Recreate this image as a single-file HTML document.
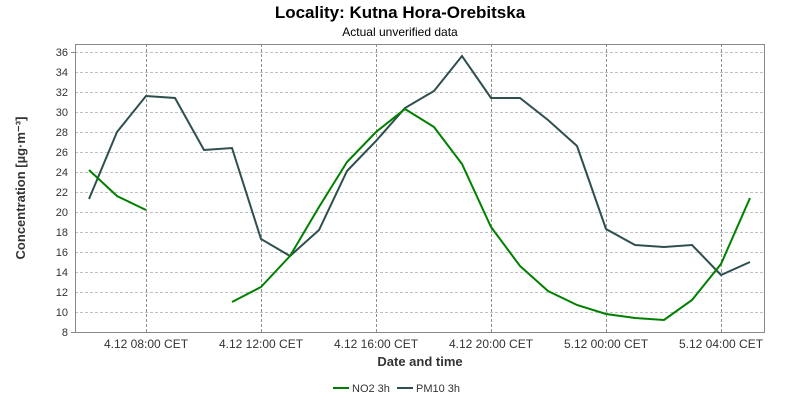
<!DOCTYPE html>
<html><head><meta charset="utf-8"><style>
body{margin:0;background:#fff;}
svg{display:block;font-family:"Liberation Sans",sans-serif;}
</style></head><body>
<svg width="800" height="400" viewBox="0 0 800 400">
<rect width="800" height="400" fill="#fff"/>
<text x="400" y="18" text-anchor="middle" font-size="17" font-weight="bold">Locality: Kutna Hora-Orebitska</text>
<text x="400" y="36" text-anchor="middle" font-size="12">Actual unverified data</text>
<g stroke="#c0c0c0" stroke-width="1" stroke-dasharray="3,2">
<line x1="75" x2="765" y1="52.5" y2="52.5"/><line x1="75" x2="765" y1="72.5" y2="72.5"/>
<line x1="75" x2="765" y1="92.5" y2="92.5"/><line x1="75" x2="765" y1="112.5" y2="112.5"/>
<line x1="75" x2="765" y1="132.5" y2="132.5"/><line x1="75" x2="765" y1="152.5" y2="152.5"/>
<line x1="75" x2="765" y1="172.5" y2="172.5"/><line x1="75" x2="765" y1="192.5" y2="192.5"/>
<line x1="75" x2="765" y1="212.5" y2="212.5"/><line x1="75" x2="765" y1="232.5" y2="232.5"/>
<line x1="75" x2="765" y1="252.5" y2="252.5"/><line x1="75" x2="765" y1="272.5" y2="272.5"/>
<line x1="75" x2="765" y1="292.5" y2="292.5"/><line x1="75" x2="765" y1="312.5" y2="312.5"/>
</g>
<g stroke="#909090" stroke-width="1" stroke-dasharray="3,2">
<line x1="146.5" x2="146.5" y1="44" y2="332"/><line x1="261.5" x2="261.5" y1="44" y2="332"/>
<line x1="376.5" x2="376.5" y1="44" y2="332"/><line x1="491.5" x2="491.5" y1="44" y2="332"/>
<line x1="606.5" x2="606.5" y1="44" y2="332"/><line x1="721.5" x2="721.5" y1="44" y2="332"/>
</g>
<rect x="75.5" y="44.5" width="689" height="288" fill="none" stroke="#888"/>
<g font-size="11" text-anchor="end" fill="#333">
<text x="68" y="56">36</text><text x="68" y="76">34</text><text x="68" y="96">32</text><text x="68" y="116">30</text>
<text x="68" y="136">28</text><text x="68" y="156">26</text><text x="68" y="176">24</text><text x="68" y="196">22</text>
<text x="68" y="216">20</text><text x="68" y="236">18</text><text x="68" y="256">16</text><text x="68" y="276">14</text>
<text x="68" y="296">12</text><text x="68" y="316">10</text><text x="68" y="336">8</text>
</g>
<g stroke="#888"><line x1="71" x2="75" y1="52.5" y2="52.5"/><line x1="71" x2="75" y1="332.5" y2="332.5"/></g>
<g font-size="12" text-anchor="middle" fill="#333">
<text x="146" y="348">4.12 08:00 CET</text><text x="261" y="348">4.12 12:00 CET</text>
<text x="376" y="348">4.12 16:00 CET</text><text x="491" y="348">4.12 20:00 CET</text>
<text x="606" y="348">5.12 00:00 CET</text><text x="721" y="348">5.12 04:00 CET</text>
</g>
<text x="420" y="366" text-anchor="middle" font-size="13" font-weight="bold" fill="#333">Date and time</text>
<text transform="translate(25,188) rotate(-90)" text-anchor="middle" font-size="13" font-weight="bold" fill="#333">Concentration [µg·m⁻³]</text>
<polyline fill="none" stroke="#2f4f4f" stroke-width="2" points="89,199 117,132 146,96 175,98 204,150 232,148 261,239 290,256 319,230 347,171 376,141 405,108 434,91 462,56 491,98 520,98 548,120 577,146 606,229 635,245 664,247 692,245 721,275 750,262"/>
<polyline fill="none" stroke="#008000" stroke-width="2" points="89,170 117,196 146,210"/>
<polyline fill="none" stroke="#008000" stroke-width="2" points="232,302 261,287 290,256 319,207 347,162 376,132 405,109 434,127 462,164 491,227 520,266 548,291 577,305 606,314 635,318 664,320 692,300 721,264 750,198"/>
<line x1="333" x2="349" y1="388" y2="388" stroke="#008000" stroke-width="2"/>
<text x="352" y="392" font-size="11" fill="#333">NO2 3h</text>
<line x1="397" x2="413" y1="388" y2="388" stroke="#2f4f4f" stroke-width="2"/>
<text x="416" y="392" font-size="11" fill="#333">PM10 3h</text>
</svg>
</body></html>
